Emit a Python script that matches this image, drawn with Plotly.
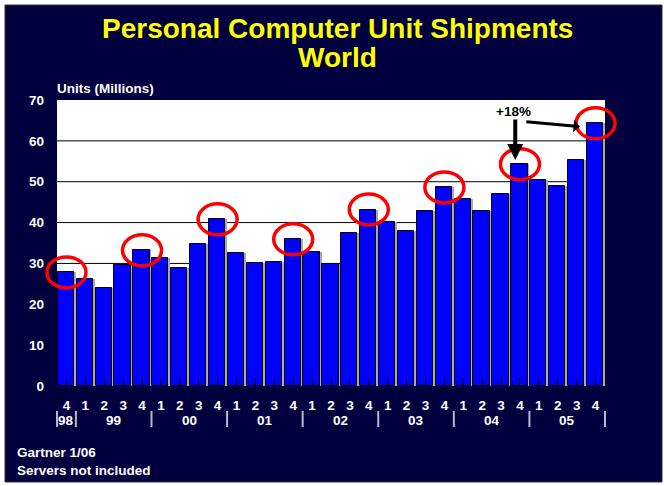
import plotly.graph_objects as go

# ---- data ----
quarters = ["4",
            "1", "2", "3", "4",
            "1", "2", "3", "4",
            "1", "2", "3", "4",
            "1", "2", "3", "4",
            "1", "2", "3", "4",
            "1", "2", "3", "4",
            "1", "2", "3", "4"]
years = ["98", "99", "00", "01", "02", "03", "04", "05"]
year_of_bar = ["98"] + [y for y in years[1:] for _ in range(4)]
shipments = [27.8,
             26.1, 24.1, 29.5, 33.2,
             31.3, 29.0, 34.7, 40.8,
             32.5, 30.0, 30.4, 35.9,
             32.7, 29.9, 37.4, 43.2,
             40.1, 37.9, 42.8, 48.6,
             45.8, 42.8, 47.0, 54.3,
             50.5, 49.0, 55.2, 64.3]
y_ticks = [0, 10, 20, 30, 40, 50, 60, 70]

NAVY = "#00003F"
FONT = "Arial, Liberation Sans, sans-serif"
FS = 13.5
N = len(shipments)
YMAX = 70
xs = list(range(N))

# plot area in pixels: x 57-605, y 100-386 of a 664x486 page
ML, MR, MT, MB = 57, 59, 100, 100
PW, PH = 664 - ML - MR, 486 - MT - MB


def px_x(p):
    return (p - ML) / PW


def px_y(p):
    return (486 - MB - p) / PH


def idx_to_paper(i):
    return (i + 0.5) / N


fig = go.Figure()
# shadow bars
fig.add_trace(go.Bar(x=xs, y=shipments, width=0.86, offset=-0.36,
                     marker=dict(color="#A8A8B0", line=dict(width=0)),
                     hoverinfo="skip", showlegend=False))
# main bars
fig.add_trace(go.Bar(x=xs, y=shipments, width=0.86, offset=-0.46,
                     marker=dict(color="#0000FF", line=dict(color="#000000", width=1)),
                     showlegend=False))

shapes = []
# navy panel and white plot area
shapes.append(dict(type="rect", xref="paper", yref="paper", layer="below",
                   x0=px_x(5), x1=px_x(662), y0=px_y(482), y1=px_y(5),
                   fillcolor=NAVY, line=dict(color="#303030", width=1)))
shapes.append(dict(type="rect", xref="paper", yref="paper", layer="below",
                   x0=0, x1=1, y0=0, y1=1, fillcolor="white", line=dict(width=0)))
# horizontal grid lines
for v in y_ticks[1:-1]:
    shapes.append(dict(type="line", xref="paper", yref="y", layer="below",
                       x0=0, x1=1, y0=v, y1=v, line=dict(color="black", width=1)))

# year groups: labels and separators
annotations = []
groups = {}
for i, yr in enumerate(year_of_bar):
    groups.setdefault(yr, []).append(i)
bounds = [-0.5]
for yr in years:
    idx = groups[yr]
    annotations.append(dict(x=sum(idx) / len(idx), y=px_y(420), xref="x", yref="paper",
                            text=f"<b>{yr}</b>", showarrow=False,
                            xanchor="center", yanchor="middle",
                            font=dict(family=FONT, size=FS, color="white")))
    bounds.append(idx[-1] + 0.5)
for b in bounds:
    shapes.append(dict(type="line", xref="paper", yref="paper",
                       x0=idx_to_paper(b), x1=idx_to_paper(b),
                       y0=px_y(411), y1=px_y(427),
                       line=dict(color="#B8B8C8", width=2)))

# red ellipses around Q4 bars (paper refs so they are not clipped)
for i, (q, v) in enumerate(zip(quarters, shipments)):
    if q == "4":
        shapes.append(dict(type="circle", xref="paper", yref="paper",
                           xsizemode="pixel", ysizemode="pixel",
                           xanchor=idx_to_paper(i), yanchor=v / YMAX,
                           x0=-19.5, x1=19.5, y0=-15.5, y1=15.5,
                           line=dict(color="#FF0000", width=3.5)))

# title
annotations.append(dict(x=px_x(337), y=px_y(28), xref="paper", yref="paper",
                        text="<b>Personal Computer Unit Shipments</b>", showarrow=False,
                        xanchor="center", yanchor="middle",
                        font=dict(family=FONT, size=28, color="#FFFF00")))
annotations.append(dict(x=px_x(337), y=px_y(58), xref="paper", yref="paper",
                        text="<b>World</b>", showarrow=False,
                        xanchor="center", yanchor="middle",
                        font=dict(family=FONT, size=28, color="#FFFF00")))
# axis title
annotations.append(dict(x=px_x(55), y=px_y(88), xref="paper", yref="paper",
                        text="<b>Units (Millions)</b>", showarrow=False,
                        xanchor="left", yanchor="middle",
                        font=dict(family=FONT, size=FS, color="white")))
# footnotes
annotations.append(dict(x=px_x(15), y=px_y(453), xref="paper", yref="paper",
                        text="<b>Gartner 1/06</b>", showarrow=False,
                        xanchor="left", yanchor="middle",
                        font=dict(family=FONT, size=FS, color="white")))
annotations.append(dict(x=px_x(15), y=px_y(470), xref="paper", yref="paper",
                        text="<b>Servers not included</b>", showarrow=False,
                        xanchor="left", yanchor="middle",
                        font=dict(family=FONT, size=FS, color="white")))

# +18% callout
last_q4 = max(i for i, q in enumerate(quarters) if q == "4")
prev_q4 = max(i for i, q in enumerate(quarters) if q == "4" and i < last_q4)
annotations.append(dict(x=prev_q4 - 0.35, y=67.2, xref="x", yref="y",
                        text="<b>+18%</b>", showarrow=False,
                        font=dict(family=FONT, size=FS, color="black")))
annotations.append(dict(x=prev_q4 - 0.25, y=shipments[prev_q4] + 1.0, xref="x", yref="y",
                        ax=prev_q4 - 0.25, ay=65.6, axref="x", ayref="y",
                        text="", showarrow=True, arrowhead=2, arrowsize=0.8,
                        arrowwidth=4, arrowcolor="black"))
annotations.append(dict(x=last_q4 - 0.83, y=63.5, xref="x", yref="y",
                        ax=prev_q4 + 0.26, ay=64.7, axref="x", ayref="y",
                        text="", showarrow=True, arrowhead=1, arrowsize=0.7,
                        arrowwidth=3, arrowcolor="black"))

fig.update_layout(
    width=664, height=486,
    margin=dict(l=ML, r=MR, t=MT, b=MB, pad=0),
    paper_bgcolor="white", plot_bgcolor="white",
    barmode="overlay", bargap=0,
    shapes=shapes, annotations=annotations,
    showlegend=False,
    font=dict(family=FONT, color="white"),
)
fig.update_xaxes(range=[-0.5, N - 0.5], tickmode="array",
                 tickvals=xs, ticktext=[f"<b>{q}</b>" for q in quarters],
                 ticks="inside", ticklen=8, tickcolor="black", tickwidth=1,
                 ticklabelstandoff=9,
                 tickfont=dict(family=FONT, size=FS, color="white"),
                 showgrid=False, zeroline=False, showline=False, fixedrange=True)
fig.update_yaxes(range=[0, YMAX], tickmode="array", tickvals=y_ticks,
                 ticktext=[f"<b>{v}</b>" for v in y_ticks],
                 ticks="", ticklabelstandoff=12,
                 tickfont=dict(family=FONT, size=FS, color="white"),
                 showgrid=False, zeroline=False, showline=False, fixedrange=True)

fig.write_html("out.html", config={"displayModeBar": False},
               post_script="document.body.style.margin='0px';document.body.style.padding='0px';")
